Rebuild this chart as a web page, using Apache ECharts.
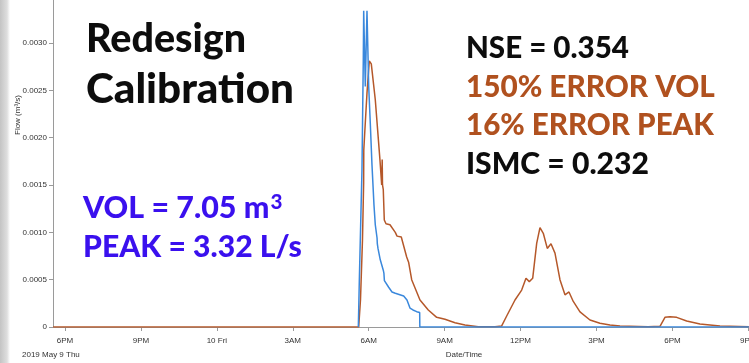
<!DOCTYPE html>
<html>
<head>
<meta charset="utf-8">
<script src="https://cdn.jsdelivr.net/npm/echarts@6/dist/echarts.min.js"></script>
<style>
html,body{margin:0;padding:0;background:#fff;}
#chart{width:749px;height:363px;}
</style>
</head>
<body>
<div id="chart"></div>
<script>
// ---- data (time in hours since 2019-05-09 00:00, flow in m3/s) ----
const xTickValues = [18, 21, 24, 27, 30, 33, 36, 39, 42, 45];
const xTickLabels = ["6PM", "9PM", "10 Fri", "3AM", "6AM", "9AM", "12PM", "3PM", "6PM", "9PM"];
const yTickValues = [0, 0.0005, 0.0010, 0.0015, 0.0020, 0.0025, 0.0030];
const yTickLabels = ["0", "0.0005", "0.0010", "0.0015", "0.0020", "0.0025", "0.0030"];

const modelTimes = [17.53, 29.604, 29.675, 29.754, 29.80, 29.806, 29.853, 29.932, 30.023, 30.07,
  30.102, 30.26, 30.446, 30.513, 30.533, 30.545, 30.576, 30.616, 30.683, 30.841,
  30.92, 31.05, 31.12, 31.18, 31.287, 31.5, 31.58, 31.698, 32.026, 32.354,
  32.686, 33.014, 33.409, 33.804, 34.33, 34.99, 35.254, 35.452, 35.78, 36.044,
  36.214, 36.345, 36.479, 36.637, 36.767, 36.898, 37.056, 37.202, 37.36, 37.557,
  37.755, 37.913, 38.083, 38.348, 38.743, 39.138, 39.533, 39.928, 41.034, 41.509,
  41.706, 41.903, 42.168, 42.563, 43.089, 43.879, 45.02];
const modelFlow = [0, 0, 0.000285, 0.00092, 0.00152, 0.00187, 0.0021, 0.00247, 0.00281, 0.00282,
  0.00278, 0.0024, 0.00176, 0.0015, 0.00177, 0.0015, 0.00145, 0.00113, 0.00109, 0.00108,
  0.00106, 0.0010, 0.00096, 0.00098, 0.00095, 0.00074, 0.00068, 0.0005, 0.000285, 0.00018,
  0.000102, 0.000081, 0.000045, 0.000021, 0.000003, 0.000003, 0.000011, 0.000116, 0.000285, 0.00039,
  0.000514, 0.000479, 0.000514, 0.000884, 0.00105, 0.00099, 0.00083, 0.00088, 0.00078, 0.0005,
  0.00034, 0.00037, 0.00027, 0.00016, 0.000074, 0.000039, 0.000021, 0.000011, 0.000003, 0.000007,
  0.000102, 0.000109, 0.000102, 0.000063, 0.000032, 0.000011, 0.000003];

const observedTimes = [29.59, 29.628, 29.734, 29.786, 29.802, 29.865, 29.932, 30.0, 30.063, 30.13,
  30.208, 30.26, 30.33, 30.34, 30.367, 30.457, 30.576, 30.6, 30.616, 30.62,
  30.789, 30.92, 31.05, 31.382, 31.433, 31.512, 31.631, 31.749, 31.896, 32.014,
  32.02, 45.02];
const observedFlow = [0, 0.000475, 0.00166, 0.00282, 0.00334, 0.00254, 0.00334, 0.00254, 0.00215, 0.00171,
  0.00129, 0.00108, 0.00094, 0.00088, 0.00083, 0.00071, 0.0006, 0.00057, 0.00058, 0.00049,
  0.00042, 0.00037, 0.000356, 0.000327, 0.00032, 0.000285, 0.0002, 0.00018, 0.000162, 0.000153,
  0, 0];

const titleLines = ["Redesign", "Calibration"];
const statLines = ["NSE = 0.354", "150% ERROR VOL", "16% ERROR PEAK", "ISMC = 0.232"];
const volText = "VOL = 7.05 m";
const volSup = "3";
const peakText = "PEAK = 3.32 L/s";
const yAxisTitle = "Flow (m³/s)";
const xAxisTitle = "Date/Time";
const dateLabel = "2019 May 9 Thu";

// ---- layout helpers ----
const mctx = document.createElement('canvas').getContext('2d');
const FAM = 'Lato';
const WT = '900';
function measure(text, size) {
  mctx.font = WT + ' ' + size + 'px ' + FAM;
  return mctx.measureText(text).width;
}
function fit(text, targetW) {
  return 40 * targetW / measure(text, 40);
}
function bigText(text, x, yMid, targetW, color) {
  return {
    type: 'text', x: x, y: yMid, silent: true,
    style: {
      text: text, fill: color, fontFamily: FAM, fontWeight: WT,
      fontSize: fit(text, targetW), verticalAlign: 'middle', align: 'left'
    }
  };
}
const BROWN = '#b0511f';
const BLACK = '#0d0d0d';
const VIOLET = '#3a10ee';

// VOL line with a real superscript
const SUP = 0.68;
const volBaseW = measure(volText, 40) + measure(volSup, 40 * SUP) + 2;
const volSize = 40 * 200 / volBaseW;

const graphics = [
  { type: 'rect', shape: { x: 0, y: 0, width: 10, height: 363 }, silent: true, z: -1,
    style: { fill: new echarts.graphic.LinearGradient(0, 0, 1, 0, [
      { offset: 0, color: '#c4c4c4' }, { offset: 0.7, color: '#dedede' }, { offset: 1, color: '#ffffff' }]) } },
  bigText(titleLines[0], 86, 39, 160, BLACK),
  bigText(titleLines[1], 86, 89, 208, BLACK),
  bigText(statLines[0], 466, 48, 163, BLACK),
  bigText(statLines[1], 466, 87, 249, BROWN),
  bigText(statLines[2], 466, 125, 248, BROWN),
  bigText(statLines[3], 466, 164, 183, BLACK),
  { type: 'text', x: 83, y: 208, silent: true,
    style: { text: volText, fill: VIOLET, fontFamily: FAM, fontWeight: WT, fontSize: volSize,
      verticalAlign: 'middle', align: 'left' } },
  { type: 'text', x: 83 + volSize / 40 * measure(volText, 40) + 1, y: 208 - volSize * 0.52, silent: true,
    style: { text: volSup, fill: VIOLET, fontFamily: FAM, fontWeight: WT, fontSize: volSize * SUP,
      verticalAlign: 'top', align: 'left' } },
  bigText(peakText, 83, 247, 219, VIOLET),
  { type: 'text', x: 18, y: 115, rotation: Math.PI / 2, silent: true,
    style: { text: yAxisTitle, fill: '#333', fontFamily: 'Liberation Sans', fontSize: 8,
      align: 'center', verticalAlign: 'middle' } },
  { type: 'text', x: 464, y: 355, silent: true,
    style: { text: xAxisTitle, fill: '#333', fontFamily: 'Liberation Sans', fontSize: 8,
      align: 'center', verticalAlign: 'middle' } },
  { type: 'text', x: 22, y: 355, silent: true,
    style: { text: dateLabel, fill: '#333', fontFamily: 'Liberation Sans', fontSize: 8,
      align: 'left', verticalAlign: 'middle' } }
];

const zip = (a, b) => a.map((t, i) => [t, b[i]]);

const chart = echarts.init(document.getElementById('chart'), null, { renderer: 'canvas' });
chart.setOption({
  animation: false,
  backgroundColor: '#ffffff',
  grid: { left: 53, right: 0, top: 0, bottom: 36, containLabel: false, outerBoundsMode: 'none' },
  xAxis: {
    type: 'value', min: 17.526, max: 45.026,
    axisLine: { show: true, onZero: false, lineStyle: { color: '#9a9a9a', width: 1 } },
    axisTick: { show: true, length: 4, customValues: xTickValues, lineStyle: { color: '#9a9a9a' } },
    axisLabel: {
      show: true, customValues: xTickValues, margin: 10, fontSize: 8,
      fontFamily: 'Liberation Sans', color: '#333',
      formatter: v => { const i = xTickValues.findIndex(t => Math.abs(t - v) < 1e-6); return i >= 0 ? xTickLabels[i] : ''; }
    },
    splitLine: { show: false }
  },
  yAxis: {
    type: 'value', min: 0, max: 0.003454,
    axisLine: { show: true, lineStyle: { color: '#9a9a9a', width: 1 } },
    axisTick: { show: true, length: 4, customValues: yTickValues, lineStyle: { color: '#9a9a9a' } },
    axisLabel: {
      show: true, customValues: yTickValues, margin: 6, fontSize: 8,
      fontFamily: 'Liberation Sans', color: '#333',
      formatter: v => { const i = yTickValues.findIndex(t => Math.abs(t - v) < 1e-9); return i >= 0 ? yTickLabels[i] : ''; }
    },
    splitLine: { show: false }
  },
  series: [
    { type: 'line', name: 'Model', data: zip(modelTimes, modelFlow), showSymbol: false, symbol: 'none',
      lineStyle: { color: '#b5582a', width: 1.5 }, itemStyle: { color: '#b5582a' }, z: 2 },
    { type: 'line', name: 'Observed', data: zip(observedTimes, observedFlow), showSymbol: false, symbol: 'none',
      lineStyle: { color: '#3a88dc', width: 1.5 }, itemStyle: { color: '#3a88dc' }, z: 3 }
  ],
  graphic: graphics
});
</script>
</body>
</html>
